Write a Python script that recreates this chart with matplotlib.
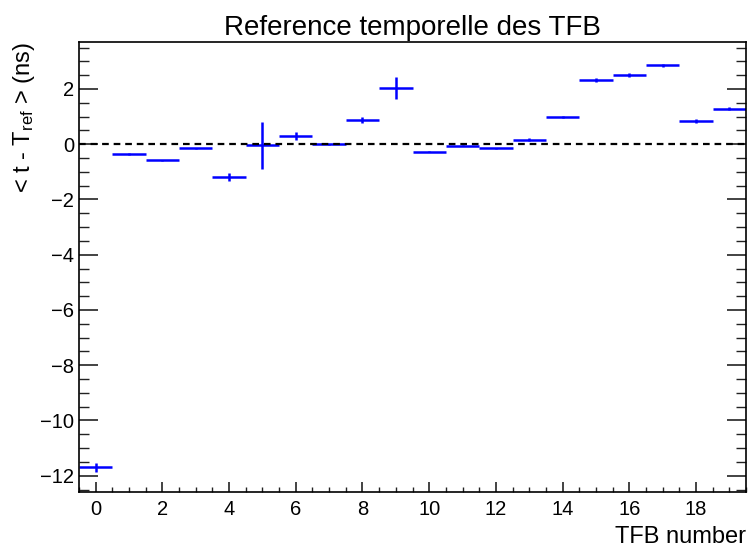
import matplotlib
matplotlib.use("Agg")
import matplotlib.pyplot as plt
from matplotlib.ticker import MultipleLocator

plt.rcParams['font.family'] = ['Liberation Sans', 'DejaVu Sans']
plt.rcParams['mathtext.fontset'] = 'custom'
plt.rcParams['mathtext.rm'] = 'Liberation Sans'
plt.rcParams['mathtext.it'] = 'Liberation Sans'

tfb = list(range(20))
values = [-11.70, -0.36, -0.58, -0.15, -1.18, -0.04, 0.30, 0.00, 0.88, 2.03,
          -0.27, -0.05, -0.15, 0.17, 0.99, 2.32, 2.50, 2.85, 0.84, 1.29]
errors = [0.15, 0.04, 0.02, 0.03, 0.14, 0.85, 0.13, 0.02, 0.12, 0.39,
          0.03, 0.03, 0.03, 0.04, 0.03, 0.06, 0.07, 0.06, 0.06, 0.06]
bin_half = [0.5] * 20

fig = plt.figure(figsize=(7.48, 5.49), dpi=100)
ax = fig.add_axes([79/748, 1-492/549, (746-79)/748, (492-42)/549])

ax.errorbar(tfb, values, yerr=errors, xerr=bin_half, fmt='none',
            ecolor='#0000ff', elinewidth=1.8, capsize=0)
ax.axhline(0, color='black', lw=1.6, ls=(0, (3, 2.2)), zorder=3)

ax.set_xlim(-0.5, 19.5)
ax.set_ylim(-12.59, 3.70)

ax.xaxis.set_major_locator(MultipleLocator(2))
ax.xaxis.set_minor_locator(MultipleLocator(0.5))
ax.yaxis.set_major_locator(MultipleLocator(2))
ax.yaxis.set_minor_locator(MultipleLocator(0.5))

ax.tick_params(axis='both', which='both', direction='in', labelsize=14.5, color='#222222')
ax.tick_params(axis='y', which='both', left=True, right=True)
ax.tick_params(axis='y', which='major', length=14, width=1.2)
ax.tick_params(axis='y', which='minor', length=7, width=1.0)
ax.tick_params(axis='x', which='both', top=False)
ax.tick_params(axis='x', which='major', length=7, width=1.2, pad=6)
ax.tick_params(axis='x', which='minor', length=3.5, width=1.0)

for s in ax.spines.values():
    s.set_linewidth(1.2)

ax.set_title('Reference temporelle des TFB', fontsize=20, pad=5)
ax.set_xlabel('TFB number', fontsize=17, loc='right', labelpad=5)
ax.set_ylabel(r'< t - T$_{\rm ref}$ > (ns)', fontsize=17, loc='top', labelpad=2)

fig.savefig('out.png', dpi=100)
